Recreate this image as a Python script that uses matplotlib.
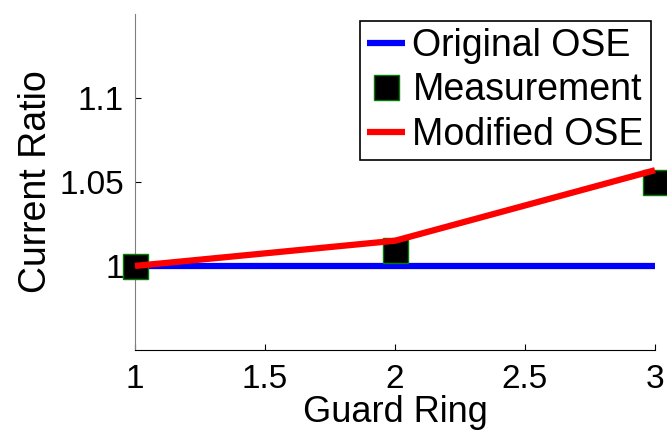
import matplotlib.pyplot as plt

guard_ring = [1, 2, 3]
original_ose = [1.0, 1.0, 1.0]
measurement = [1.0, 1.0095, 1.05]
modified_ose = [1.0, 1.015, 1.057]

x_ticks = [1, 1.5, 2, 2.5, 3]
x_tick_labels = ['1', '1.5', '2', '2.5', '3']
y_ticks = [1.0, 1.05, 1.1]
y_tick_labels = ['1', '1.05', '1.1']

plt.rcParams['font.family'] = ['Liberation Sans', 'DejaVu Sans']

fig = plt.figure(figsize=(6.67, 4.32), dpi=100, facecolor='w')
ax = fig.add_axes([0.2024, 0.19, 0.7796, 0.7776])

ax.plot(guard_ring, original_ose, color='#0000ff', lw=4.5, label='Original OSE',
        solid_capstyle='butt', zorder=2)
ax.plot(guard_ring, measurement, 's', ms=18, mfc='black', mec='#008000', mew=1,
        label='Measurement', zorder=3, clip_on=False)
ax.plot(guard_ring, modified_ose, color='#ff0000', lw=4.5, label='Modified OSE',
        solid_capstyle='butt', zorder=4, clip_on=False)

ax.set_xlim(1, 3)
ax.set_ylim(0.95, 1.15)
ax.set_xticks(x_ticks)
ax.set_xticklabels(x_tick_labels)
ax.set_yticks(y_ticks)
ax.set_yticklabels(y_tick_labels)
ax.tick_params(direction='in', length=4, labelsize=24)
ax.tick_params(axis='x', pad=10)
ax.tick_params(axis='y', pad=8)

ax.set_xlabel('Guard Ring', fontsize=26, labelpad=0)
ax.set_ylabel('Current Ratio', fontsize=27, labelpad=4)

for spine in ('top', 'right'):
    ax.spines[spine].set_visible(False)
ax.spines['left'].set_color('#808080')
ax.spines['bottom'].set_color('black')

legend = ax.legend(loc='upper right', bbox_to_anchor=(0.993, 0.98), fontsize=27,
                   handlelength=1.0, handletextpad=0.2, borderpad=0.2,
                   labelspacing=0.22, borderaxespad=0, fancybox=False,
                   framealpha=1, edgecolor='black', markerscale=1)
legend.get_frame().set_linewidth(1.2)

fig.savefig('out.png', dpi=100)
